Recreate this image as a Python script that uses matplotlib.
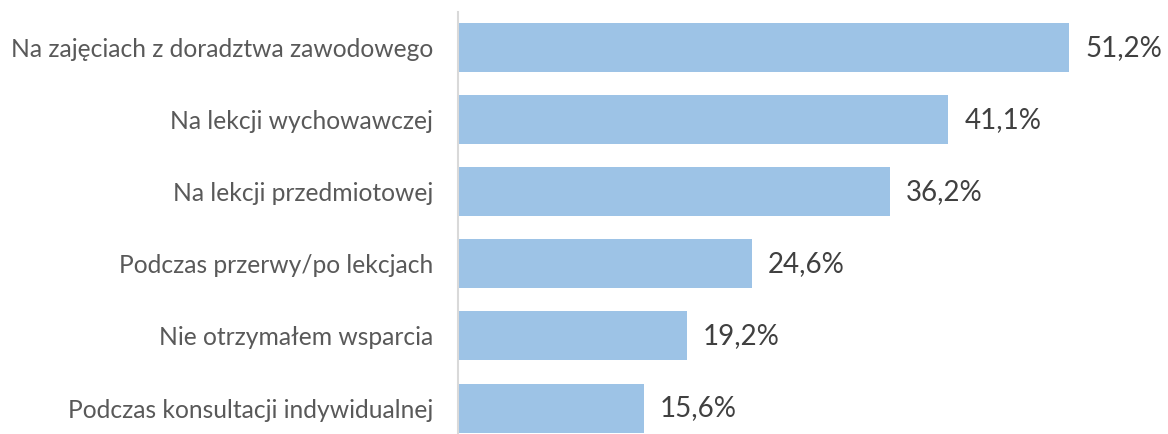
import matplotlib
matplotlib.use("Agg")
import matplotlib.pyplot as plt

categories = [
    "Na zajęciach z doradztwa zawodowego",
    "Na lekcji wychowawczej",
    "Na lekcji przedmiotowej",
    "Podczas przerwy/po lekcjach",
    "Nie otrzymałem wsparcia",
    "Podczas konsultacji indywidualnej",
]
values = [51.2, 41.1, 36.2, 24.6, 19.2, 15.6]
value_labels = ["51,2%", "41,1%", "36,2%", "24,6%", "19,2%", "15,6%"]

plt.rcParams['font.family'] = ['Lato', 'DejaVu Sans']

W, H = 1168, 434
fig = plt.figure(figsize=(W / 100, H / 100), dpi=100)
left_px, top_px = 458, 11.5
xmax = 60
px_per_unit = (1069 - 458) / 51.2
ax_w = xmax * px_per_unit
ax_h = 72.1 * 6
ax = fig.add_axes([left_px / W, (H - top_px - ax_h) / H, ax_w / W, ax_h / H])

y = list(range(len(categories)))
ax.barh(y, values, height=0.68, color="#9DC3E6", zorder=2)
ax.set_xlim(0, xmax)
ax.set_ylim(len(categories) - 0.5, -0.5)

for yi, v, lab in zip(y, values, value_labels):
    ax.text(v + 16 / px_per_unit, yi, lab, va="center", ha="left",
            fontsize=20, color="#404040")

ax.set_yticks(y)
ax.set_yticklabels(categories, fontsize=17.7, color="#595959")
ax.tick_params(axis="y", length=0, pad=18)
ax.set_xticks([])
for s in ["top", "right", "bottom"]:
    ax.spines[s].set_visible(False)
ax.spines["left"].set_color("#D9D9D9")
ax.spines["left"].set_linewidth(1.5)

fig.savefig("out.png", dpi=100)
